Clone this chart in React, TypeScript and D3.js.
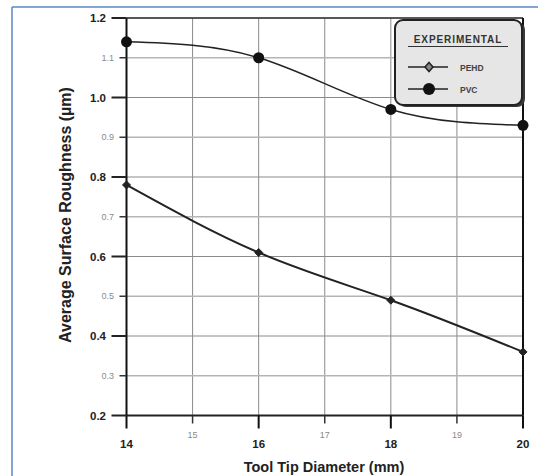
import React from "react";
import * as d3 from "d3";

const diameters = [14, 16, 18, 20];
const pehdValues = [0.78, 0.61, 0.49, 0.36];
const pvcValues = [1.14, 1.1, 0.97, 0.93];
const xMajorTicks = [14, 16, 18, 20];
const xMinorTicks = [15, 17, 19];
const yMajorTicks = [0.2, 0.4, 0.6, 0.8, 1.0, 1.2];
const yMinorTicks = [0.3, 0.5, 0.7, 0.9, 1.1];

export default function App() {
  const W = 538, H = 476;
  const left = 126.5, right = 523, top = 18, bottom = 415.5;
  const x = d3.scaleLinear().domain([14, 20]).range([left, right]);
  const y = d3.scaleLinear().domain([0.2, 1.2]).range([bottom, top]);
  const line = d3
    .line<number>()
    .x((_, i) => x(diameters[i]))
    .y((d) => y(d))
    .curve(d3.curveNatural);
  const font = "'Liberation Sans', Arial, sans-serif";
  const allX = [...xMajorTicks, ...xMinorTicks];
  const allY = [...yMajorTicks, ...yMinorTicks];
  const fmt = (v: number) => v.toFixed(1);
  return (
    <svg
      width={W}
      height={H}
      style={{ position: "absolute", left: 0, top: 0, background: "#fff" }}
      fontFamily={font}
    >
      {/* outer frame */}
      <line x1={12} y1={7} x2={W} y2={7} stroke="#5b87c5" strokeWidth={1.5} />
      <line x1={12} y1={7} x2={12} y2={H} stroke="#5b87c5" strokeWidth={1.5} />

      {/* grid */}
      {allX.map((t) => (
        <line key={"gx" + t} x1={x(t)} x2={x(t)} y1={top} y2={bottom} stroke="#8a8a8a" strokeWidth={1} />
      ))}
      {allY.map((t) => (
        <line key={"gy" + t} x1={left} x2={right} y1={y(t)} y2={y(t)} stroke={yMinorTicks.includes(t) ? "#b5b5b5" : "#8a8a8a"} strokeWidth={yMinorTicks.includes(t) ? 1.5 : 1} />
      ))}

      {/* border */}
      <line x1={left} x2={right} y1={top} y2={top} stroke="#333" strokeWidth={1.5} />
      <line x1={right} x2={right} y1={top} y2={bottom} stroke="#111" strokeWidth={2} />
      <line x1={left} x2={right} y1={bottom} y2={bottom} stroke="#222" strokeWidth={2} />
      <line x1={left} x2={left} y1={top} y2={bottom} stroke="#111" strokeWidth={2} />

      {/* x ticks */}
      {xMajorTicks.map((t) => (
        <g key={"xt" + t}>
          <line x1={x(t)} x2={x(t)} y1={bottom} y2={bottom + 13} stroke="#111" strokeWidth={2} />
          <text x={x(t)} y={448} textAnchor="middle" fontSize={11.5} fontWeight="bold" fill="#222">{t}</text>
        </g>
      ))}
      {xMinorTicks.map((t) => (
        <g key={"xm" + t}>
          <line x1={x(t)} x2={x(t)} y1={bottom} y2={bottom + 8} stroke="#333" strokeWidth={1.5} />
          <text x={x(t)} y={438} textAnchor="middle" fontSize={9} fill="#8a8a8a">{t}</text>
        </g>
      ))}
      {/* y ticks */}
      {yMajorTicks.map((t) => (
        <g key={"yt" + t}>
          <line x1={left - 15} x2={left} y1={y(t)} y2={y(t)} stroke="#222" strokeWidth={2} />
          <text x={106} y={y(t) + 4} textAnchor="end" fontSize={11.5} fontWeight="bold" fill="#222">{fmt(t)}</text>
        </g>
      ))}
      {yMinorTicks.map((t) => (
        <g key={"ym" + t}>
          <line x1={left - 7} x2={left} y1={y(t)} y2={y(t)} stroke="#333" strokeWidth={1.5} />
          <text x={114} y={y(t) + 3} textAnchor="end" fontSize={9} fill="#8a8a8a">{fmt(t)}</text>
        </g>
      ))}

      {/* series */}
      <path d={line(pvcValues) || ""} fill="none" stroke="#222" strokeWidth={1.5} />
      <path d={line(pehdValues) || ""} fill="none" stroke="#222" strokeWidth={2} />
      {pvcValues.map((v, i) => (
        <circle key={"pvc" + i} cx={x(diameters[i])} cy={y(v)} r={5.5} fill="#111" />
      ))}
      {pehdValues.map((v, i) => {
        const cx = x(diameters[i]), cy = y(v);
        return (
          <path key={"pe" + i} d={`M${cx},${cy - 4}L${cx + 4},${cy}L${cx},${cy + 4}L${cx - 4},${cy}Z`} fill="#222" stroke="#222" strokeWidth={1} />
        );
      })}

      {/* legend */}
      <rect x={398} y={22} width={127} height={85} rx={8} fill="#3a3a3a" />
      <rect x={395} y={20} width={127} height={85} rx={8} fill="#e6e6e6" stroke="#222" strokeWidth={2} />
      <text x={458} y={43} textAnchor="middle" fontSize={10} fontWeight="bold" fill="#333" letterSpacing={0.9}>EXPERIMENTAL</text>
      <line x1={408} x2={508} y1={46.5} y2={46.5} stroke="#333" strokeWidth={1.2} />
      <line x1={408} x2={448} y1={67} y2={67} stroke="#222" strokeWidth={1.5} />
      <path d="M429,62.5L433,67L429,71.5L425,67Z" fill="#888" stroke="#222" strokeWidth={1.5} />
      <text x={460} y={70.5} fontSize={8.5} fontWeight="bold" fill="#444">PEHD</text>
      <line x1={408} x2={448} y1={89} y2={89} stroke="#222" strokeWidth={1.5} />
      <circle cx={429} cy={89} r={6} fill="#111" />
      <text x={460} y={92.5} fontSize={8.5} fontWeight="bold" fill="#444">PVC</text>

      {/* titles */}
      <text x={324} y={472} textAnchor="middle" fontSize={14.5} fontWeight="bold" fill="#222">Tool Tip Diameter (mm)</text>
      <text transform="translate(71,215) rotate(-90)" textAnchor="middle" fontSize={16} fontWeight="bold" fill="#222">Average Surface Roughness (µm)</text>
    </svg>
  );
}
